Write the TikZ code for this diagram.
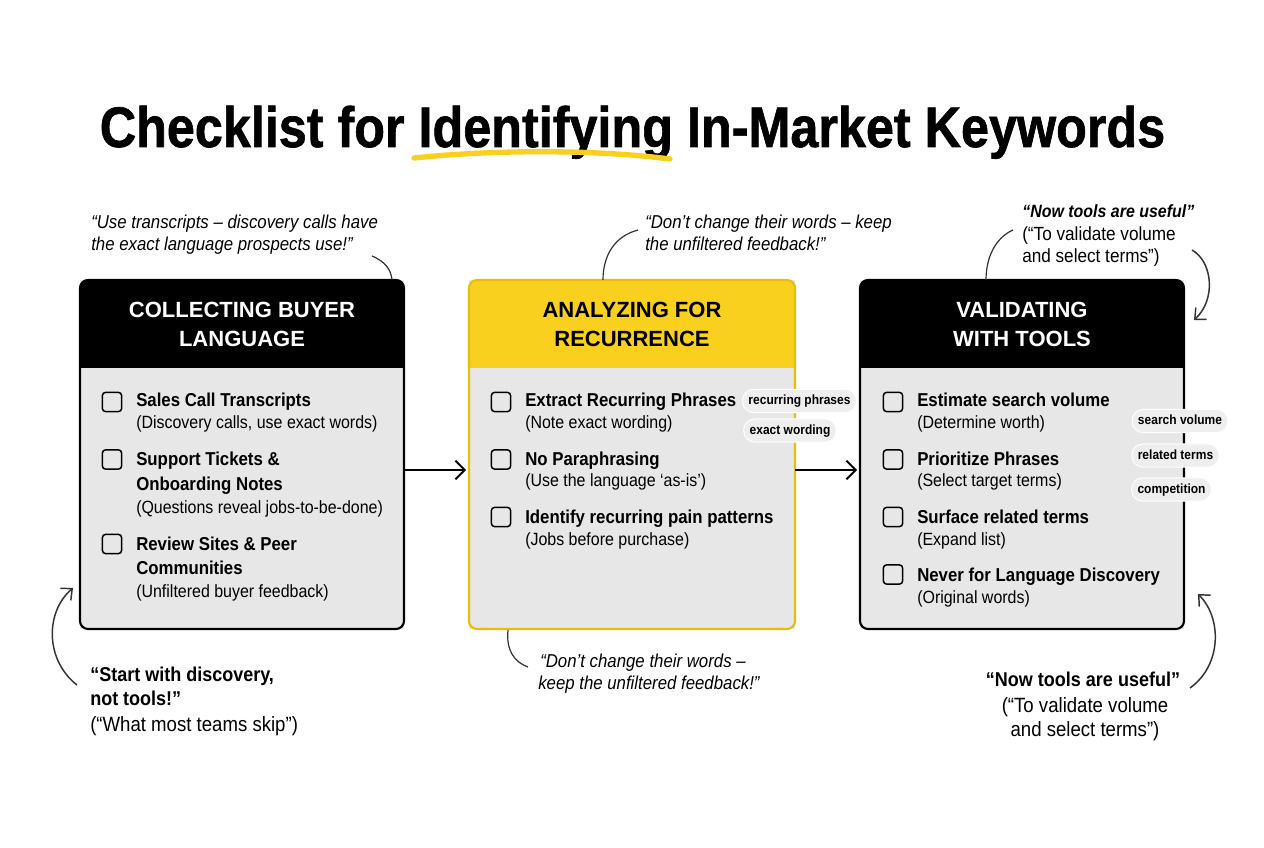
\documentclass[tikz,border=0pt]{standalone}
\usepackage{fontspec}
\usepackage{graphicx}
\setmainfont{Liberation Sans}[FakeStretch=0.9]
\newfontfamily\hdr{Liberation Sans}
\newfontfamily\ttl{Liberation Sans}[FakeBold=1.2]
\usetikzlibrary{arrows.meta,calc}
\definecolor{ylw}{HTML}{F9D01E}
\definecolor{ylwdark}{HTML}{E8BE0A}
\definecolor{bodygray}{HTML}{E7E7E7}
\definecolor{pillgray}{HTML}{EEEEEE}
\definecolor{notegray}{HTML}{333333}
\begin{document}
\begin{tikzpicture}[x=0.75pt,y=-0.75pt,
  boxnode/.style={minimum height=261.75pt, inner sep=0, outer sep=0, fill=bodygray},
  hdtext/.style={anchor=base, inner sep=0, font=\hdr\bfseries\fontsize{16.5}{20}\selectfont},
  itemtext/.style={anchor=base west, inner sep=0, font=\bfseries\fontsize{14}{17}\selectfont},
  subtext/.style={anchor=base west, inner sep=0, font=\fontsize{13.3}{16}\selectfont},
  cbox/.style={draw, line width=1.1pt, rounded corners=2.5pt, minimum size=14.5pt, inner sep=0},
  pill/.style={fill=pillgray, draw=white, line width=0.8pt, rounded corners=8.5pt, inner xsep=4.5pt, inner ysep=0, minimum height=17.5pt, text height=7.3pt, text depth=2pt, font=\bfseries\fontsize{10}{12}\selectfont},
  flow/.style={line width=1.4pt, -{Straight Barb[length=7pt,width=14pt,line width=1.4pt]}},
  note/.style={notegray, line width=0.9pt},
  notearr/.style={notegray, line width=1.1pt, -{Straight Barb[length=6.5pt,width=12pt,line width=1.1pt]}},
  qit/.style={anchor=base west, inner sep=0, font=\itshape\fontsize{14}{17}\selectfont},
  qbold/.style={inner sep=0, font=\bfseries\fontsize{15}{18}\selectfont},
  qreg/.style={inner sep=0, font=\fontsize{15.5}{18}\selectfont}
]
\useasboundingbox[fill=white] (0,0) rectangle (1264,848);

% title
\node[anchor=base, inner sep=0] (title) at (632.5,147)
  {\resizebox{799pt}{31pt}{\ttl\bfseries Checklist for Identifying In-Market Keywords}};
\draw[ylw, line width=4pt, line cap=round] (414,158) .. controls (500,149) and (600,150) .. (670,159);

% boxes
\node[boxnode, minimum width=243pt] (b1) at (242,454.5) {};
\node[boxnode, minimum width=244.5pt] (b2) at (632,454.5) {};
\node[boxnode, minimum width=243pt] (b3) at (1022,454.5) {};

\begin{scope}
  \clip[rounded corners=6pt] (b1.north west) rectangle (b1.south east);
  \fill[bodygray] (b1.north west) rectangle (b1.south east);
  \fill[black] (b1.north west) rectangle ($(b1.north east)+(0,88)$);
\end{scope}
\begin{scope}
  \clip[rounded corners=6pt] (b2.north west) rectangle (b2.south east);
  \fill[bodygray] (b2.north west) rectangle (b2.south east);
  \fill[ylw] (b2.north west) rectangle ($(b2.north east)+(0,88)$);
\end{scope}
\begin{scope}
  \clip[rounded corners=6pt] (b3.north west) rectangle (b3.south east);
  \fill[bodygray] (b3.north west) rectangle (b3.south east);
  \fill[black] (b3.north west) rectangle ($(b3.north east)+(0,88)$);
\end{scope}
\draw[line width=1.6pt, rounded corners=6pt] (b1.north west) rectangle (b1.south east);
\draw[ylwdark, line width=1.6pt, rounded corners=6pt] (b2.north west) rectangle (b2.south east);
\draw[line width=1.6pt, rounded corners=6pt] (b3.north west) rectangle (b3.south east);

% headers
\node[hdtext, white] (h1a) at (242,318) {COLLECTING BUYER};
\node[hdtext, white] (h1b) at (242,347) {LANGUAGE};
\node[hdtext, black] (h2a) at (632,318) {ANALYZING FOR};
\node[hdtext, black] (h2b) at (632,347) {RECURRENCE};
\node[hdtext, white] (h3a) at (1022,318) {VALIDATING};
\node[hdtext, white] (h3b) at (1022,347) {WITH TOOLS};

% box 1 items
\node[cbox] (c11) at (112,402) {};
\node[itemtext] (t11) at (136,407) {Sales Call Transcripts};
\node[subtext] (s11) at (136,429) {(Discovery calls, use exact words)};
\node[cbox] (c12) at (112,459.5) {};
\node[itemtext] (t12a) at (136,465) {Support Tickets \&};
\node[itemtext] (t12b) at (136,490) {Onboarding Notes};
\node[subtext] (s12) at (136,513) {(Questions reveal jobs-to-be-done)};
\node[cbox] (c13) at (112,544) {};
\node[itemtext] (t13a) at (136,550) {Review Sites \& Peer};
\node[itemtext] (t13b) at (136,574) {Communities};
\node[subtext] (s13) at (136,597) {(Unfiltered buyer feedback)};

% box 2 items
\node[cbox] (c21) at (501,402) {};
\node[itemtext] (t21) at (525,407) {Extract Recurring Phrases};
\node[subtext] (s21) at (525,429) {(Note exact wording)};
\node[cbox] (c22) at (501,459.5) {};
\node[itemtext] (t22) at (525,465) {No Paraphrasing};
\node[subtext] (s22) at (525,487) {(Use the language ‘as-is’)};
\node[cbox] (c23) at (501,517) {};
\node[itemtext] (t23) at (525,523) {Identify recurring pain patterns};
\node[subtext] (s23) at (525,545) {(Jobs before purchase)};

% box 3 items
\node[cbox] (c31) at (893,402) {};
\node[itemtext] (t31) at (917,407) {Estimate search volume};
\node[subtext] (s31) at (917,429) {(Determine worth)};
\node[cbox] (c32) at (893,459.5) {};
\node[itemtext] (t32) at (917,465) {Prioritize Phrases};
\node[subtext] (s32) at (917,487) {(Select target terms)};
\node[cbox] (c33) at (893,517) {};
\node[itemtext] (t33) at (917,523) {Surface related terms};
\node[subtext] (s33) at (917,545) {(Expand list)};
\node[cbox] (c34) at (893,574.5) {};
\node[itemtext] (t34) at (917,581) {Never for Language Discovery};
\node[subtext] (s34) at (917,603) {(Original words)};

% pills
\node[pill] (p1) at (799.5,401) {recurring phrases};
\node[pill] (p2) at (790,430.5) {exact wording};
\node[pill] (p3) at (1180,421) {search volume};
\node[pill] (p4) at (1175.5,455.5) {related terms};
\node[pill] (p5) at (1171.5,489.5) {competition};

% flow arrows
\draw[flow] ($(b1.east)+(0,15.5)$) -- ($(b2.west)+(-3,15.5)$);
\draw[flow] ($(b2.east)+(0,15.5)$) -- ($(b3.west)+(-3,15.5)$);

% top-left note
\node[qit] (q1a) at (91,229) {“Use transcripts – discovery calls have};
\node[qit] (q1b) at (91,251) {the exact language prospects use!”};
\coordinate (q1s) at (372,256);
\coordinate (q1e) at (392,280);
\draw[note] (q1s) .. controls (386,262) and (391,270) .. (q1e);

% top-middle note
\node[qit] (q2a) at (645,229) {“Don’t change their words – keep};
\node[qit] (q2b) at (645,251) {the unfiltered feedback!”};
\coordinate (q2s) at (638,230);
\coordinate (q2e) at (603,280);
\draw[note] (q2s) .. controls (615,236) and (603,255) .. (q2e);

% top-right note
\node[anchor=base west, inner sep=0, font=\bfseries\itshape\fontsize{13.3}{16}\selectfont] (q3a) at (1022,218) {“Now tools are useful”};
\node[anchor=base west, inner sep=0, font=\fontsize{14.3}{17}\selectfont] (q3b) at (1022,241) {(“To validate volume};
\node[anchor=base west, inner sep=0, font=\fontsize{14.3}{17}\selectfont] (q3c) at (1022,263) {and select terms”)};
\coordinate (q3s) at (1013,230);
\coordinate (q3e) at (986,280);
\draw[note] (q3s) .. controls (995,238) and (986,258) .. (q3e);
\coordinate (q3r) at (1192,250);
\coordinate (q3t) at (1194,320);
\draw[notearr] (q3r) .. controls (1213,262) and (1216,300) .. (q3t);

% bottom-left note
\node[qbold, anchor=base west] (q4a) at (90,681) {“Start with discovery,};
\node[qbold, anchor=base west] (q4b) at (90,705) {not tools!”};
\node[qreg, anchor=base west] (q4c) at (90,731) {(“What most teams skip”)};
\coordinate (q4s) at (77,685);
\coordinate (q4t) at (73,588);
\draw[notearr] (q4s) .. controls (45,660) and (45,612) .. (q4t);

% bottom-middle note
\node[qit] (q5a) at (540,667) {“Don’t change their words –};
\node[qit] (q5b) at (538,689) {keep the unfiltered feedback!”};
\coordinate (q5s) at (508,630);
\coordinate (q5e) at (528,667);
\draw[note] (q5s) .. controls (506,650) and (514,662) .. (q5e);

% bottom-right note
\node[qbold, anchor=base] (q6a) at (1083,686) {“Now tools are useful”};
\node[qreg, anchor=base] (q6b) at (1085,712) {(“To validate volume};
\node[qreg, anchor=base] (q6c) at (1085,736) {and select terms”)};
\coordinate (q6s) at (1190,688);
\coordinate (q6t) at (1198,594);
\draw[notearr] (q6s) .. controls (1222,665) and (1222,618) .. (q6t);
\end{tikzpicture}
\end{document}
